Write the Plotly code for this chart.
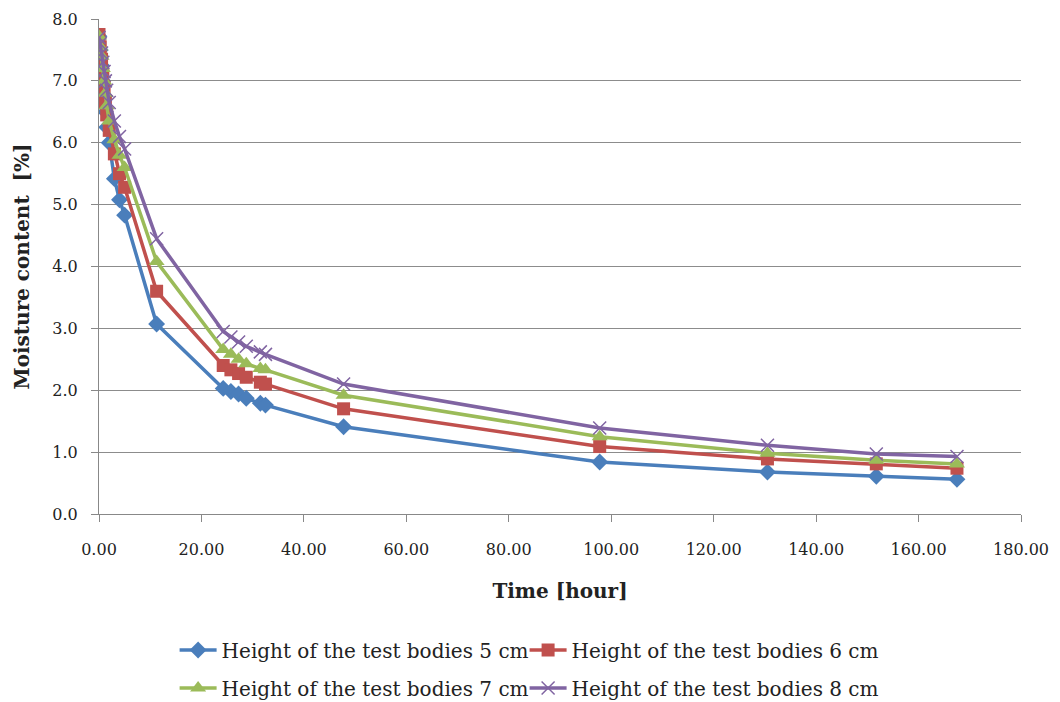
import plotly.graph_objects as go

time_h = [0, 0.25, 0.5, 0.75, 1.0, 1.25, 1.5, 2.0, 3.0, 4.0, 5.0, 11.25,
          24.25, 25.75, 27.25, 28.75, 31.5, 32.5, 47.75, 97.75, 130.5, 151.75, 167.5]

h5 = [7.72, 7.5, 7.25, 7.0, 6.75, 6.5, 6.25, 6.0, 5.42, 5.08, 4.83, 3.07,
      2.03, 1.98, 1.94, 1.87, 1.79, 1.76, 1.41, 0.84, 0.68, 0.61, 0.56]
h6 = [7.75, 7.55, 7.35, 7.1, 6.9, 6.65, 6.45, 6.2, 5.82, 5.5, 5.28, 3.6,
      2.4, 2.33, 2.27, 2.21, 2.13, 2.10, 1.70, 1.09, 0.89, 0.81, 0.74]
h7 = [7.72, 7.55, 7.4, 7.2, 7.0, 6.8, 6.6, 6.35, 6.05, 5.8, 5.6, 4.08,
      2.66, 2.58, 2.50, 2.43, 2.35, 2.33, 1.92, 1.25, 0.98, 0.87, 0.81]
h8 = [7.7, 7.6, 7.45, 7.3, 7.15, 7.0, 6.85, 6.65, 6.35, 6.1, 5.9, 4.45,
      2.95, 2.86, 2.78, 2.71, 2.62, 2.58, 2.10, 1.39, 1.11, 0.97, 0.93]

names = ["Height of the test bodies 5 cm", "Height of the test bodies 6 cm",
         "Height of the test bodies 7 cm", "Height of the test bodies 8 cm"]

x_ticks = [0, 20, 40, 60, 80, 100, 120, 140, 160, 180]
y_ticks = [0, 1, 2, 3, 4, 5, 6, 7, 8]

FONT = "DejaVu Serif"
series = [
    (h5, names[0], "#4A7EBB", dict(symbol="diamond", size=13), "legend"),
    (h6, names[1], "#C0504D", dict(symbol="square", size=13), "legend2"),
    (h7, names[2], "#9BBB59", dict(symbol="triangle-up", size=14), "legend3"),
    (h8, names[3], "#8064A2", dict(symbol="x-thin", size=13), "legend4"),
]

fig = go.Figure()
for vals, nm, col, mk, lg in series:
    marker = dict(color=col, **mk)
    if mk["symbol"] == "x-thin":
        marker["line"] = dict(color=col, width=1.5)
    fig.add_trace(go.Scatter(x=time_h, y=vals, name=nm, mode="lines+markers",
                             line=dict(color=col, width=3.5), marker=marker,
                             legend=lg))

leg_common = dict(orientation="h", xanchor="left", yanchor="middle",
                  yref="container", itemwidth=37,
                  font=dict(family=FONT, size=20, color="#222"),
                  bgcolor="rgba(0,0,0,0)", borderwidth=0)
col1, col2 = 0.082, 0.4616
row1, row2 = 0.0855, 0.0313

fig.update_layout(
    width=1060, height=702,
    margin=dict(l=91, r=47, t=11, b=196),
    paper_bgcolor="white", plot_bgcolor="white",
    font=dict(family=FONT, size=16, color="#222"),
    showlegend=True,
    legend=dict(x=col1, y=row1, **leg_common),
    legend2=dict(x=col2, y=row1, **leg_common),
    legend3=dict(x=col1, y=row2, **leg_common),
    legend4=dict(x=col2, y=row2, **leg_common),
    xaxis=dict(range=[0, 180], tickvals=x_ticks,
               ticktext=[f"{v:.2f}" for v in x_ticks],
               showgrid=False, zeroline=False, showline=True, linecolor="#888",
               linewidth=1, ticks="outside", ticklen=7, tickcolor="#888",
               ticklabelstandoff=14, automargin=False,
               title=dict(text="<b>Time [hour]</b>", font=dict(size=20), standoff=25)),
    yaxis=dict(range=[0, 8], tickvals=y_ticks,
               ticktext=[f"{v:.1f}" for v in y_ticks],
               showgrid=True, gridcolor="#8c8c8c", gridwidth=1, zeroline=False,
               showline=True, linecolor="#888", linewidth=1,
               ticks="outside", ticklen=7, tickcolor="#888", ticklabelstandoff=10,
               automargin=False,
               title=dict(text="<b>Moisture content  [%]</b>", font=dict(size=20), standoff=17)),
)

fig.write_html("out.html")
